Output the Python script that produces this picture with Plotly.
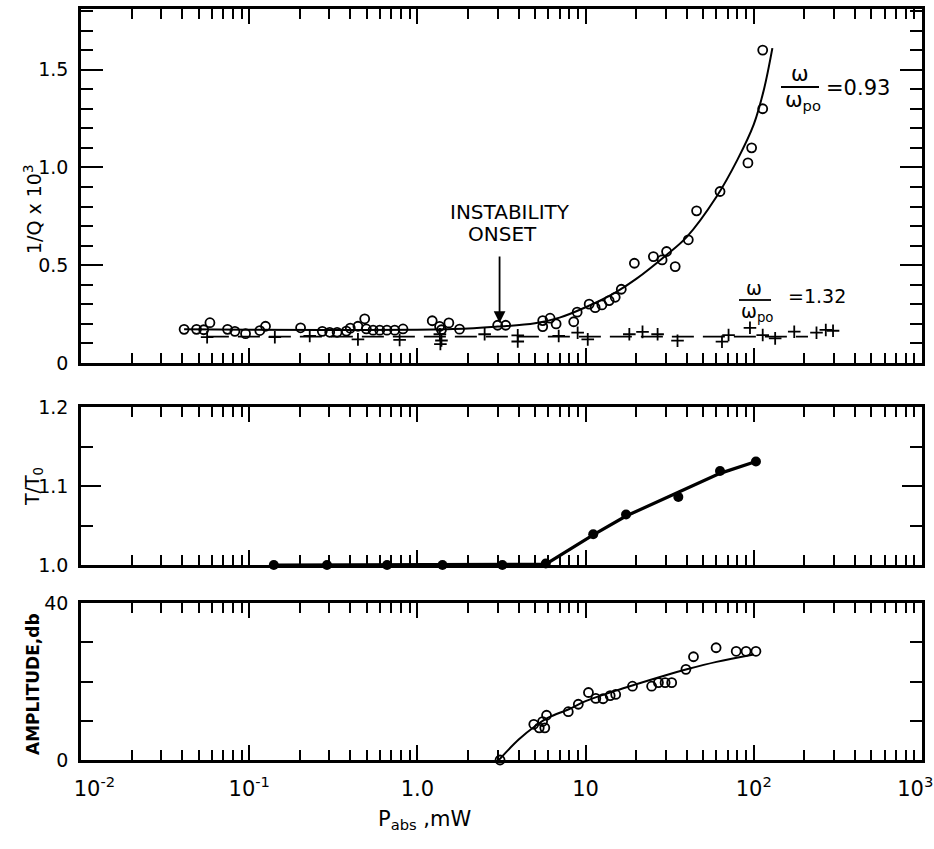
import math
import plotly.graph_objects as go

# ---------------- data ----------------
# Top panel: 1/Q x 10^3 ; omega/omega_po = 0.93 (open circles)
q093_p = [0.041, 0.0486, 0.0536, 0.0584, 0.0743, 0.0822, 0.0951, 0.1156, 0.125, 0.202,
          0.272, 0.301, 0.333, 0.378, 0.399, 0.443, 0.486, 0.497, 0.545, 0.597,
          0.659, 0.733, 0.821, 1.225, 1.355, 1.39, 1.538, 1.78, 3.0, 3.35,
          5.56, 5.56, 6.15, 6.68, 8.5, 8.91, 10.5, 11.4, 12.5, 13.8,
          15.0, 16.3, 19.5, 25.3, 28.5, 30.3, 34.1, 40.8, 45.7, 63.0,
          92.3, 97.1, 113, 113]
q093_v = [0.172, 0.172, 0.170, 0.206, 0.172, 0.162, 0.150, 0.166, 0.188, 0.180,
          0.162, 0.157, 0.157, 0.163, 0.178, 0.188, 0.226, 0.174, 0.168, 0.168,
          0.168, 0.168, 0.174, 0.216, 0.187, 0.170, 0.205, 0.173, 0.193, 0.193,
          0.217, 0.186, 0.229, 0.200, 0.211, 0.260, 0.301, 0.283, 0.297, 0.319,
          0.336, 0.377, 0.510, 0.544, 0.527, 0.570, 0.493, 0.630, 0.778, 0.877,
          1.023, 1.100, 1.30, 1.60]
fit093_p = [0.041, 0.1, 0.3, 1.0, 2.0, 3.0, 5.0, 7.0, 10, 15, 20, 30, 40, 60, 80, 100, 115, 129]
fit093_v = [0.172, 0.170, 0.169, 0.170, 0.176, 0.186, 0.203, 0.232, 0.285, 0.36, 0.43,
            0.55, 0.645, 0.85, 1.04, 1.22, 1.40, 1.61]

# omega/omega_po = 1.32 (plus signs)
q132_p = [0.0562, 0.142, 0.229, 0.443, 0.784, 1.36, 1.39, 1.37, 2.51, 3.95, 3.95,
          6.92, 8.97, 10.3, 18.2, 21.8, 26.8, 35.2, 64.7, 70.8, 94.9, 113, 134,
          174, 236, 268, 296]
q132_v = [0.132, 0.132, 0.138, 0.121, 0.118, 0.147, 0.115, 0.097, 0.147, 0.141, 0.110,
          0.138, 0.155, 0.121, 0.147, 0.159, 0.147, 0.114, 0.109, 0.143, 0.180, 0.143,
          0.126, 0.160, 0.155, 0.169, 0.165]
fit132_p = [0.056, 210]
fit132_v = [0.135, 0.135]

# Middle panel: T/T0
tt_p = [0.14, 0.29, 0.66, 1.41, 3.2, 5.8, 11.1, 17.4, 35.6, 63, 103]
tt_v = [1.0, 1.0, 1.0, 1.0, 1.0, 1.002, 1.039, 1.064, 1.086, 1.119, 1.131]
fit_tt_p = [0.14, 5.8, 11.1, 17.4, 35.6, 63, 103]
fit_tt_v = [1.0, 1.001, 1.038, 1.062, 1.092, 1.116, 1.131]

# Bottom panel: amplitude, db
amp_p = [3.1, 4.92, 5.30, 5.55, 5.72, 5.86, 7.89, 9.05, 10.4, 11.5, 12.7, 14.0,
         15.1, 19.0, 24.7, 27.1, 29.7, 32.5, 39.5, 43.8, 59.7, 78.6, 90, 103]
amp_v = [0, 9.1, 8.2, 9.8, 8.2, 11.4, 12.3, 14.2, 17.2, 15.7, 15.6, 16.4,
         16.7, 18.8, 18.8, 19.7, 19.7, 19.7, 23.1, 26.3, 28.6, 27.7, 27.7, 27.7]
fit_amp_p = [3.05, 4.0, 5.0, 6.0, 8.0, 10, 15, 20, 30, 40, 60, 100]
fit_amp_v = [0, 5.2, 8.6, 10.8, 13.0, 15.0, 17.6, 19.3, 21.6, 23.1, 25.0, 26.9]

x_tickvals = [0.01, 0.1, 1, 10, 100, 1000]
x_ticktext = ["&nbsp;&nbsp;&nbsp;&nbsp;10<sup>-2</sup>", "10<sup>-1</sup>", "1.0", "10",
              "10<sup>2</sup>", "10<sup>3</sup>&nbsp;&nbsp;"]
top_tickvals = [0, 0.5, 1.0, 1.5]
top_ticktext = ["0", "0.5", "1.0", "1.5"]
mid_tickvals = [1.0, 1.1, 1.2]
mid_ticktext = ["1.0", "1.1", "1.2"]
bot_tickvals = [0, 40]
bot_ticktext = ["0", "40"]

# ---------------- figure ----------------
W, H = 934, 849
ML, MR, MT, MB = 81, 12, 9, 89
PW, PH = W - ML - MR, H - MT - MB


def px(x):
    return (x - ML) / PW


def py(y):
    return (H - MB - y) / PH


FONT = "DejaVu Sans"
BLACK = "black"

fig = go.Figure()

circle_open = dict(symbol="circle-open", size=9, color=BLACK, line=dict(width=1.8, color=BLACK))

# top panel traces (x3, y3)
fig.add_trace(go.Scatter(x=fit093_p, y=fit093_v, mode="lines", line=dict(color=BLACK, width=2, shape="spline"),
                         xaxis="x3", yaxis="y3", showlegend=False))
fig.add_trace(go.Scatter(x=fit132_p, y=fit132_v, mode="lines",
                         line=dict(color=BLACK, width=1.6, dash="22px,9px"),
                         xaxis="x3", yaxis="y3", showlegend=False))
fig.add_trace(go.Scatter(x=q093_p, y=q093_v, mode="markers", marker=circle_open,
                         xaxis="x3", yaxis="y3", showlegend=False, cliponaxis=False))
fig.add_trace(go.Scatter(x=q132_p, y=q132_v, mode="markers",
                         marker=dict(symbol="cross-thin-open", size=9, color=BLACK,
                                     line=dict(width=1.8, color=BLACK)),
                         xaxis="x3", yaxis="y3", showlegend=False, cliponaxis=False))

# middle panel (x2, y2)
fig.add_trace(go.Scatter(x=fit_tt_p, y=fit_tt_v, mode="lines", line=dict(color=BLACK, width=3.2),
                         xaxis="x2", yaxis="y2", showlegend=False, cliponaxis=False))
fig.add_trace(go.Scatter(x=tt_p, y=tt_v, mode="markers",
                         marker=dict(symbol="circle", size=10, color=BLACK),
                         xaxis="x2", yaxis="y2", showlegend=False, cliponaxis=False))

# bottom panel (x, y)
fig.add_trace(go.Scatter(x=fit_amp_p, y=fit_amp_v, mode="lines", line=dict(color=BLACK, width=2, shape="spline"),
                         xaxis="x", yaxis="y", showlegend=False, cliponaxis=False))
fig.add_trace(go.Scatter(x=amp_p, y=amp_v, mode="markers", marker=circle_open,
                         xaxis="x", yaxis="y", showlegend=False, cliponaxis=False))

minor_x = [m * 10.0 ** e for e in range(-2, 3) for m in range(2, 10)]
XR = [-2.0002, 3.0002]


def xaxis(labels, anchor):
    d = dict(type="log", range=XR, showline=True, linecolor=BLACK, linewidth=2.5,
             mirror="ticks", ticks="inside", ticklen=15, tickwidth=2, tickcolor=BLACK,
             showgrid=False, zeroline=False, tickmode="array", tickvals=x_tickvals,
             ticktext=x_ticktext, showticklabels=labels, anchor=anchor,
             ticklabeloverflow="allow", automargin=False,
             tickfont=dict(family=FONT, size=21, color=BLACK),
             minor=dict(ticks="inside", ticklen=10, tickwidth=1.8, tickcolor=BLACK,
                        tickmode="array", tickvals=minor_x, showgrid=False))
    if labels:
        d["ticklabelstandoff"] = 8
    return d


def yaxis(rng, tv, tt, minor_dt, domain, anchor, tl=20):
    return dict(range=rng, domain=domain, anchor=anchor, showline=True, linecolor=BLACK,
                linewidth=2.5, mirror="ticks", ticks="inside", ticklen=tl, tickwidth=2,
                tickcolor=BLACK, showgrid=False, zeroline=False, tickmode="array",
                tickvals=tv, ticktext=tt, ticklabelstandoff=6,
                ticklabeloverflow="allow", automargin=False,
                tickfont=dict(family=FONT, size=19, color=BLACK),
                minor=dict(ticks="inside", ticklen=12, tickwidth=1.8, tickcolor=BLACK,
                           dtick=minor_dt, showgrid=False))


fig.update_layout(
    width=W, height=H,
    margin=dict(l=ML, r=MR, t=MT, b=MB, autoexpand=False),
    plot_bgcolor="white", paper_bgcolor="white",
    font=dict(family=FONT, color=BLACK),
    xaxis=xaxis(True, "y"),
    xaxis2=xaxis(False, "y2"),
    xaxis3=xaxis(False, "y3"),
    yaxis=yaxis([0, 40], bot_tickvals, bot_ticktext, 10, [0, py(603)], "x", tl=16),
    yaxis2=yaxis([1.0, 1.2], mid_tickvals, mid_ticktext, 0.05, [py(565), py(407)], "x2"),
    yaxis3=yaxis([0, 1.81], top_tickvals, top_ticktext, 0.1, [py(363), 1.0], "x3", tl=22),
)
fig.update_layout(xaxis2=dict(matches="x"), xaxis3=dict(matches="x"))

ann = []


def text_at(x, y, text, size, angle=0):
    ann.append(dict(x=px(x), y=py(y), xref="paper", yref="paper", text=text,
                    xanchor="center", yanchor="middle", textangle=angle,
                    showarrow=False, font=dict(size=size, family=FONT, color=BLACK)))


# axis titles
text_at(33, 210, "1/Q x 10<sup>3</sup>", 19, -90)
text_at(33, 487, "T/T<sub>0</sub>", 19, -90)
text_at(33, 684, "<b>AMPLITUDE,db</b>", 17, -90)
text_at(424, 820, "P<sub>abs</sub> ,mW", 21)

# instability onset
ann.append(dict(x=math.log10(3.08), y=0.205, xref="x3", yref="y3", ax=0, ay=-68, text="",
                showarrow=True, arrowhead=2, arrowsize=1.3, arrowwidth=1.8, arrowcolor=BLACK))
text_at(510, 212, "INSTABILITY", 20)
text_at(502, 234, "ONSET", 20)


# omega labels
def frac(xc, ynum, yden, xeq, yeq, val, fs=21):
    text_at(xc, ynum, "ω", fs)
    text_at(xc + 3, yden, "ω<sub>po</sub>", fs)
    text_at(xeq, yeq, "=" + val, fs)


frac(800, 74, 101, 858, 88, "0.93")
frac(754, 288, 313, 817, 296, "1.32", fs=19)

shapes = [
    dict(type="line", xref="paper", yref="paper", x0=px(781), x1=px(819), y0=py(87), y1=py(87),
         line=dict(color=BLACK, width=1.8)),
    dict(type="line", xref="paper", yref="paper", x0=px(739), x1=px(771), y0=py(300), y1=py(300),
         line=dict(color=BLACK, width=1.8)),
]

fig.update_layout(annotations=ann, shapes=shapes)

fig.write_html("out.html")
